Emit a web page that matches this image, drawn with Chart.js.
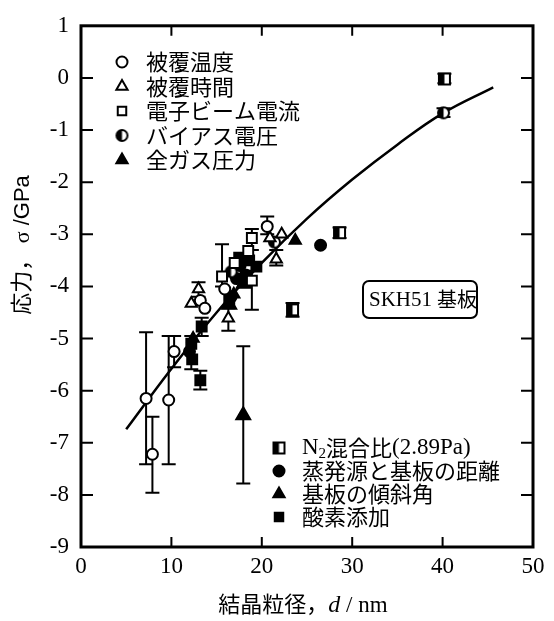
<!DOCTYPE html>
<html>
<head>
<meta charset="utf-8">
<script src="https://cdn.jsdelivr.net/npm/chart.js@4.4.0/dist/chart.umd.min.js"></script>
<style>
  body { margin: 0; background: #fff; }
</style>
</head>
<body>
<canvas id="chart" width="554" height="621"></canvas>
<script>
// --- data (d in nm, stress in GPa) ---
const coatTempX = [7.2, 7.9, 9.7, 10.3, 13.2, 13.7, 15.9, 20.6]
const coatTempY = [-6.15, -7.22, -6.18, -5.25, -4.27, -4.42, -4.05, -2.85]

const coatTimeX = [13.0, 12.2, 16.3, 21.6, 20.9, 22.2]
const coatTimeY = [-4.05, -4.33, -4.61, -3.48, -3.07, -3.0]

const beamX = [18.9, 15.6, 18.9, 18.5, 17.0]
const beamY = [-3.07, -3.81, -3.89, -3.32, -3.55]

const biasX = [40.1, 21.4, 16.6]
const biasY = [-0.67, -3.15, -3.72]

const gasX = [23.7, 16.9, 12.4]
const gasY = [-3.12, -4.15, -5.0]

const n2X = [40.2, 28.6, 23.4]
const n2Y = [-0.02, -2.97, -4.45]

const distX = [26.5, 17.6, 18.2, 16.6, 12.0, 17.2]
const distY = [-3.21, -3.6, -3.78, -4.2, -5.25, -3.85]

const tiltX = [17.95, 18.0, 16.4]
const tiltY = [-6.47, -3.95, -4.35]

const oxyX = [13.2, 13.35, 12.2, 12.3, 16.4, 18.6, 19.4, 17.5]
const oxyY = [-5.8, -4.77, -5.1, -5.4, -4.25, -3.5, -3.62, -3.45]

// error bars: x, low, high
const errX  = [7.2, 7.9, 9.7, 10.3, 17.95, 13.2, 20.6, 18.9, 15.6, 18.9, 16.3, 13.0, 13.35, 12.2, 28.6, 23.4, 21.6, 40.2, 40.1]
const errLo = [-7.41, -7.96, -7.41, -5.55, -7.78, -5.98, -3.0, -3.3, -4.0, -4.45, -4.85, -4.2, -4.95, -5.59, -3.07, -4.58, -3.6, -0.1, -0.75]
const errHi = [-4.88, -6.5, -4.95, -4.95, -5.15, -5.62, -2.66, -2.9, -3.19, -3.7, -4.42, -3.92, -4.6, -4.95, -2.87, -4.32, -3.3, 0.08, -0.58]

// fitted curve, points
const curveX = [5.0, 10.0, 15.0, 20.0, 25.0, 30.0, 35.0, 40.0, 45.6]
const curveY = [-6.74, -5.58, -4.5, -3.55, -2.7, -1.95, -1.28, -0.68, -0.18]

const xTicks = [0, 10, 20, 30, 40, 50]
const yTicks = [1, 0, -1, -2, -3, -4, -5, -6, -7, -8, -9]

const pts = (xs, ys) => xs.map((x, i) => ({ x: x, y: ys[i] }))

// half filled marker images
function halfMarker(shape) {
  const c = document.createElement('canvas')
  c.width = 15; c.height = 15
  const g = c.getContext('2d')
  g.lineWidth = 2
  g.strokeStyle = '#000'
  g.fillStyle = '#fff'
  g.beginPath()
  if (shape === 'circle') g.arc(7.5, 7.5, 5.5, 0, Math.PI * 2)
  else g.rect(2, 2, 11, 11)
  g.fill()
  g.save(); g.clip()
  g.fillStyle = '#000'
  g.fillRect(0, 0, 7.5, 15)
  g.restore()
  g.stroke()
  return c
}
const halfCircle = halfMarker('circle')
const halfSquare = halfMarker('square')

const series = [
  { label: '被覆温度', data: pts(coatTempX, coatTempY), pointStyle: 'circle', pointRadius: 5.5, fill: false },
  { label: '被覆時間', data: pts(coatTimeX, coatTimeY), pointStyle: 'triangle', pointRadius: 6.5, fill: false },
  { label: '電子ビーム電流', data: pts(beamX, beamY), pointStyle: 'rect', pointRadius: 7, fill: false },
  { label: 'バイアス電圧', data: pts(biasX, biasY), pointStyle: halfCircle, pointRadius: 6, fill: false },
  { label: '全ガス圧力', data: pts(gasX, gasY), pointStyle: 'triangle', pointRadius: 6.5, fill: true },
  { label: 'N2混合比(2.89Pa)', data: pts(n2X, n2Y), pointStyle: halfSquare, pointRadius: 6, fill: false },
  { label: '蒸発源と基板の距離', data: pts(distX, distY), pointStyle: 'circle', pointRadius: 5.5, fill: true },
  { label: '基板の傾斜角', data: pts(tiltX, tiltY), pointStyle: 'triangle', pointRadius: 8, fill: true },
  { label: '酸素添加', data: pts(oxyX, oxyY), pointStyle: 'rect', pointRadius: 7, fill: true }
]

const datasets = series.map(s => ({
  type: 'scatter',
  label: s.label,
  data: s.data,
  pointStyle: s.pointStyle,
  pointRadius: s.pointRadius,
  pointBorderWidth: 2,
  pointBorderColor: '#000',
  pointBackgroundColor: s.fill ? '#000' : '#fff',
  order: 1
}))

datasets.push({
  type: 'line',
  label: 'fit',
  data: pts(curveX, curveY),
  borderColor: '#000',
  borderWidth: 2.5,
  pointRadius: 0,
  tension: 0.4,
  fill: false,
  order: 2
})

// error bars, inward ticks, frame
const decorPlugin = {
  id: 'decor',
  beforeDatasetsDraw(chart) {
    const { ctx, scales: { x, y } } = chart
    ctx.save()
    ctx.strokeStyle = '#000'
    ctx.lineWidth = 2
    errX.forEach((v, i) => {
      const px = x.getPixelForValue(v)
      const lo = y.getPixelForValue(errLo[i])
      const hi = y.getPixelForValue(errHi[i])
      ctx.beginPath()
      ctx.moveTo(px, lo); ctx.lineTo(px, hi)
      ctx.moveTo(px - 7, lo); ctx.lineTo(px + 7, lo)
      ctx.moveTo(px - 7, hi); ctx.lineTo(px + 7, hi)
      ctx.stroke()
    })
    ctx.restore()
  },
  afterDraw(chart) {
    const { ctx, chartArea: a, scales: { x, y } } = chart
    ctx.save()
    ctx.strokeStyle = '#000'
    ctx.lineWidth = 3
    ctx.strokeRect(a.left, a.top, a.right - a.left, a.bottom - a.top)
    ctx.lineWidth = 2
    ctx.beginPath()
    xTicks.slice(1, -1).forEach(v => {
      const px = x.getPixelForValue(v)
      ctx.moveTo(px, a.bottom); ctx.lineTo(px, a.bottom - 10)
      ctx.moveTo(px, a.top); ctx.lineTo(px, a.top + 10)
    })
    yTicks.slice(1, -1).forEach(v => {
      const py = y.getPixelForValue(v)
      ctx.moveTo(a.left, py); ctx.lineTo(a.left + 12, py)
      ctx.moveTo(a.right, py); ctx.lineTo(a.right - 12, py)
    })
    ctx.stroke()

    // legends
    const legend = (items, mx, tx, y0, dy) => {
      items.forEach((idx, k) => {
        const s = series[idx]
        const yy = y0 + k * dy
        ctx.fillStyle = s.fill ? '#000' : '#fff'
        ctx.strokeStyle = '#000'
        ctx.lineWidth = 2
        let r = s.pointRadius
        if (s.pointStyle === 'rect') r = 6
        if (r > 7) r = 6.5
        Chart.helpers.drawPoint(ctx, { pointStyle: s.pointStyle, radius: r, rotation: 0, borderWidth: 2 }, mx, yy)
        ctx.fillStyle = '#000'
        ctx.textBaseline = 'middle'
        ctx.textAlign = 'left'
        if (idx === 5) {
          ctx.font = '23px "Liberation Serif"'
          ctx.fillText('N', tx, yy)
          let w = ctx.measureText('N').width
          ctx.font = '15px "Liberation Serif"'
          ctx.fillText('2', tx + w, yy + 6)
          w += ctx.measureText('2').width
          ctx.font = '22px "Noto Sans CJK JP"'
          ctx.fillText('混合比', tx + w, yy)
          w += ctx.measureText('混合比').width
          ctx.font = '23px "Liberation Serif"'
          ctx.fillText('(2.89Pa)', tx + w, yy)
        } else {
          ctx.font = '22px "Noto Sans CJK JP"'
          ctx.fillText(s.label, tx, yy)
        }
      })
    }
    legend([0, 1, 2, 3, 4], 122, 146, 62, 24.5)
    legend([5, 6, 7, 8], 279, 302, 448, 23)

    // substrate label box
    ctx.lineWidth = 2
    ctx.beginPath()
    ctx.roundRect(363, 281, 114, 37, 6)
    ctx.stroke()
    ctx.textBaseline = 'middle'
    ctx.font = '21px "Liberation Serif"'
    ctx.fillText('SKH51', 369, 300)
    let w = ctx.measureText('SKH51').width + 5
    ctx.font = '20px "Noto Sans CJK JP"'
    ctx.fillText('基板', 369 + w, 299)

    // axis titles
    ctx.textBaseline = 'alphabetic'
    const xParts = [['結晶粒径，', '22px "Noto Sans CJK JP"'], ['d', 'italic 24px "Liberation Serif"'], [' / nm', '23px "Liberation Serif"']]
    let total = 0
    xParts.forEach(p => { ctx.font = p[1]; total += ctx.measureText(p[0]).width })
    let cx = 303 - total / 2
    xParts.forEach(p => { ctx.font = p[1]; ctx.fillText(p[0], cx, 612); cx += ctx.measureText(p[0]).width })

    ctx.translate(29, 245)
    ctx.rotate(-Math.PI / 2)
    const yParts = [['応力，', '22px "Noto Sans CJK JP"'], [' σ', '22px "Liberation Serif"'], [' /GPa', '22px "Liberation Sans"']]
    total = 0
    yParts.forEach(p => { ctx.font = p[1]; total += ctx.measureText(p[0]).width })
    cx = -total / 2
    yParts.forEach(p => { ctx.font = p[1]; ctx.fillText(p[0], cx, 0); cx += ctx.measureText(p[0]).width })
    ctx.restore()
  }
}

new Chart(document.getElementById('chart'), {
  data: { datasets: datasets },
  options: {
    responsive: false,
    animation: false,
    layout: { padding: { top: 18, right: 21, left: 0, bottom: 0 } },
    plugins: { legend: { display: false }, tooltip: { enabled: false } },
    scales: {
      x: {
        type: 'linear', min: 0, max: 50,
        afterBuildTicks: s => { s.ticks = xTicks.map(v => ({ value: v })) },
        afterFit: s => { s.height = 74 },
        grid: { display: false, drawTicks: false },
        border: { display: false },
        ticks: { padding: 6, color: '#000', font: { family: 'Liberation Serif', size: 23 } }
      },
      y: {
        type: 'linear', min: -9, max: 1,
        afterBuildTicks: s => { s.ticks = yTicks.map(v => ({ value: v })) },
        afterFit: s => { s.width = 81 },
        grid: { display: false, drawTicks: false },
        border: { display: false },
        ticks: { padding: 12, color: '#000', font: { family: 'Liberation Serif', size: 23 } }
      }
    }
  },
  plugins: [decorPlugin]
})
</script>
</body>
</html>
